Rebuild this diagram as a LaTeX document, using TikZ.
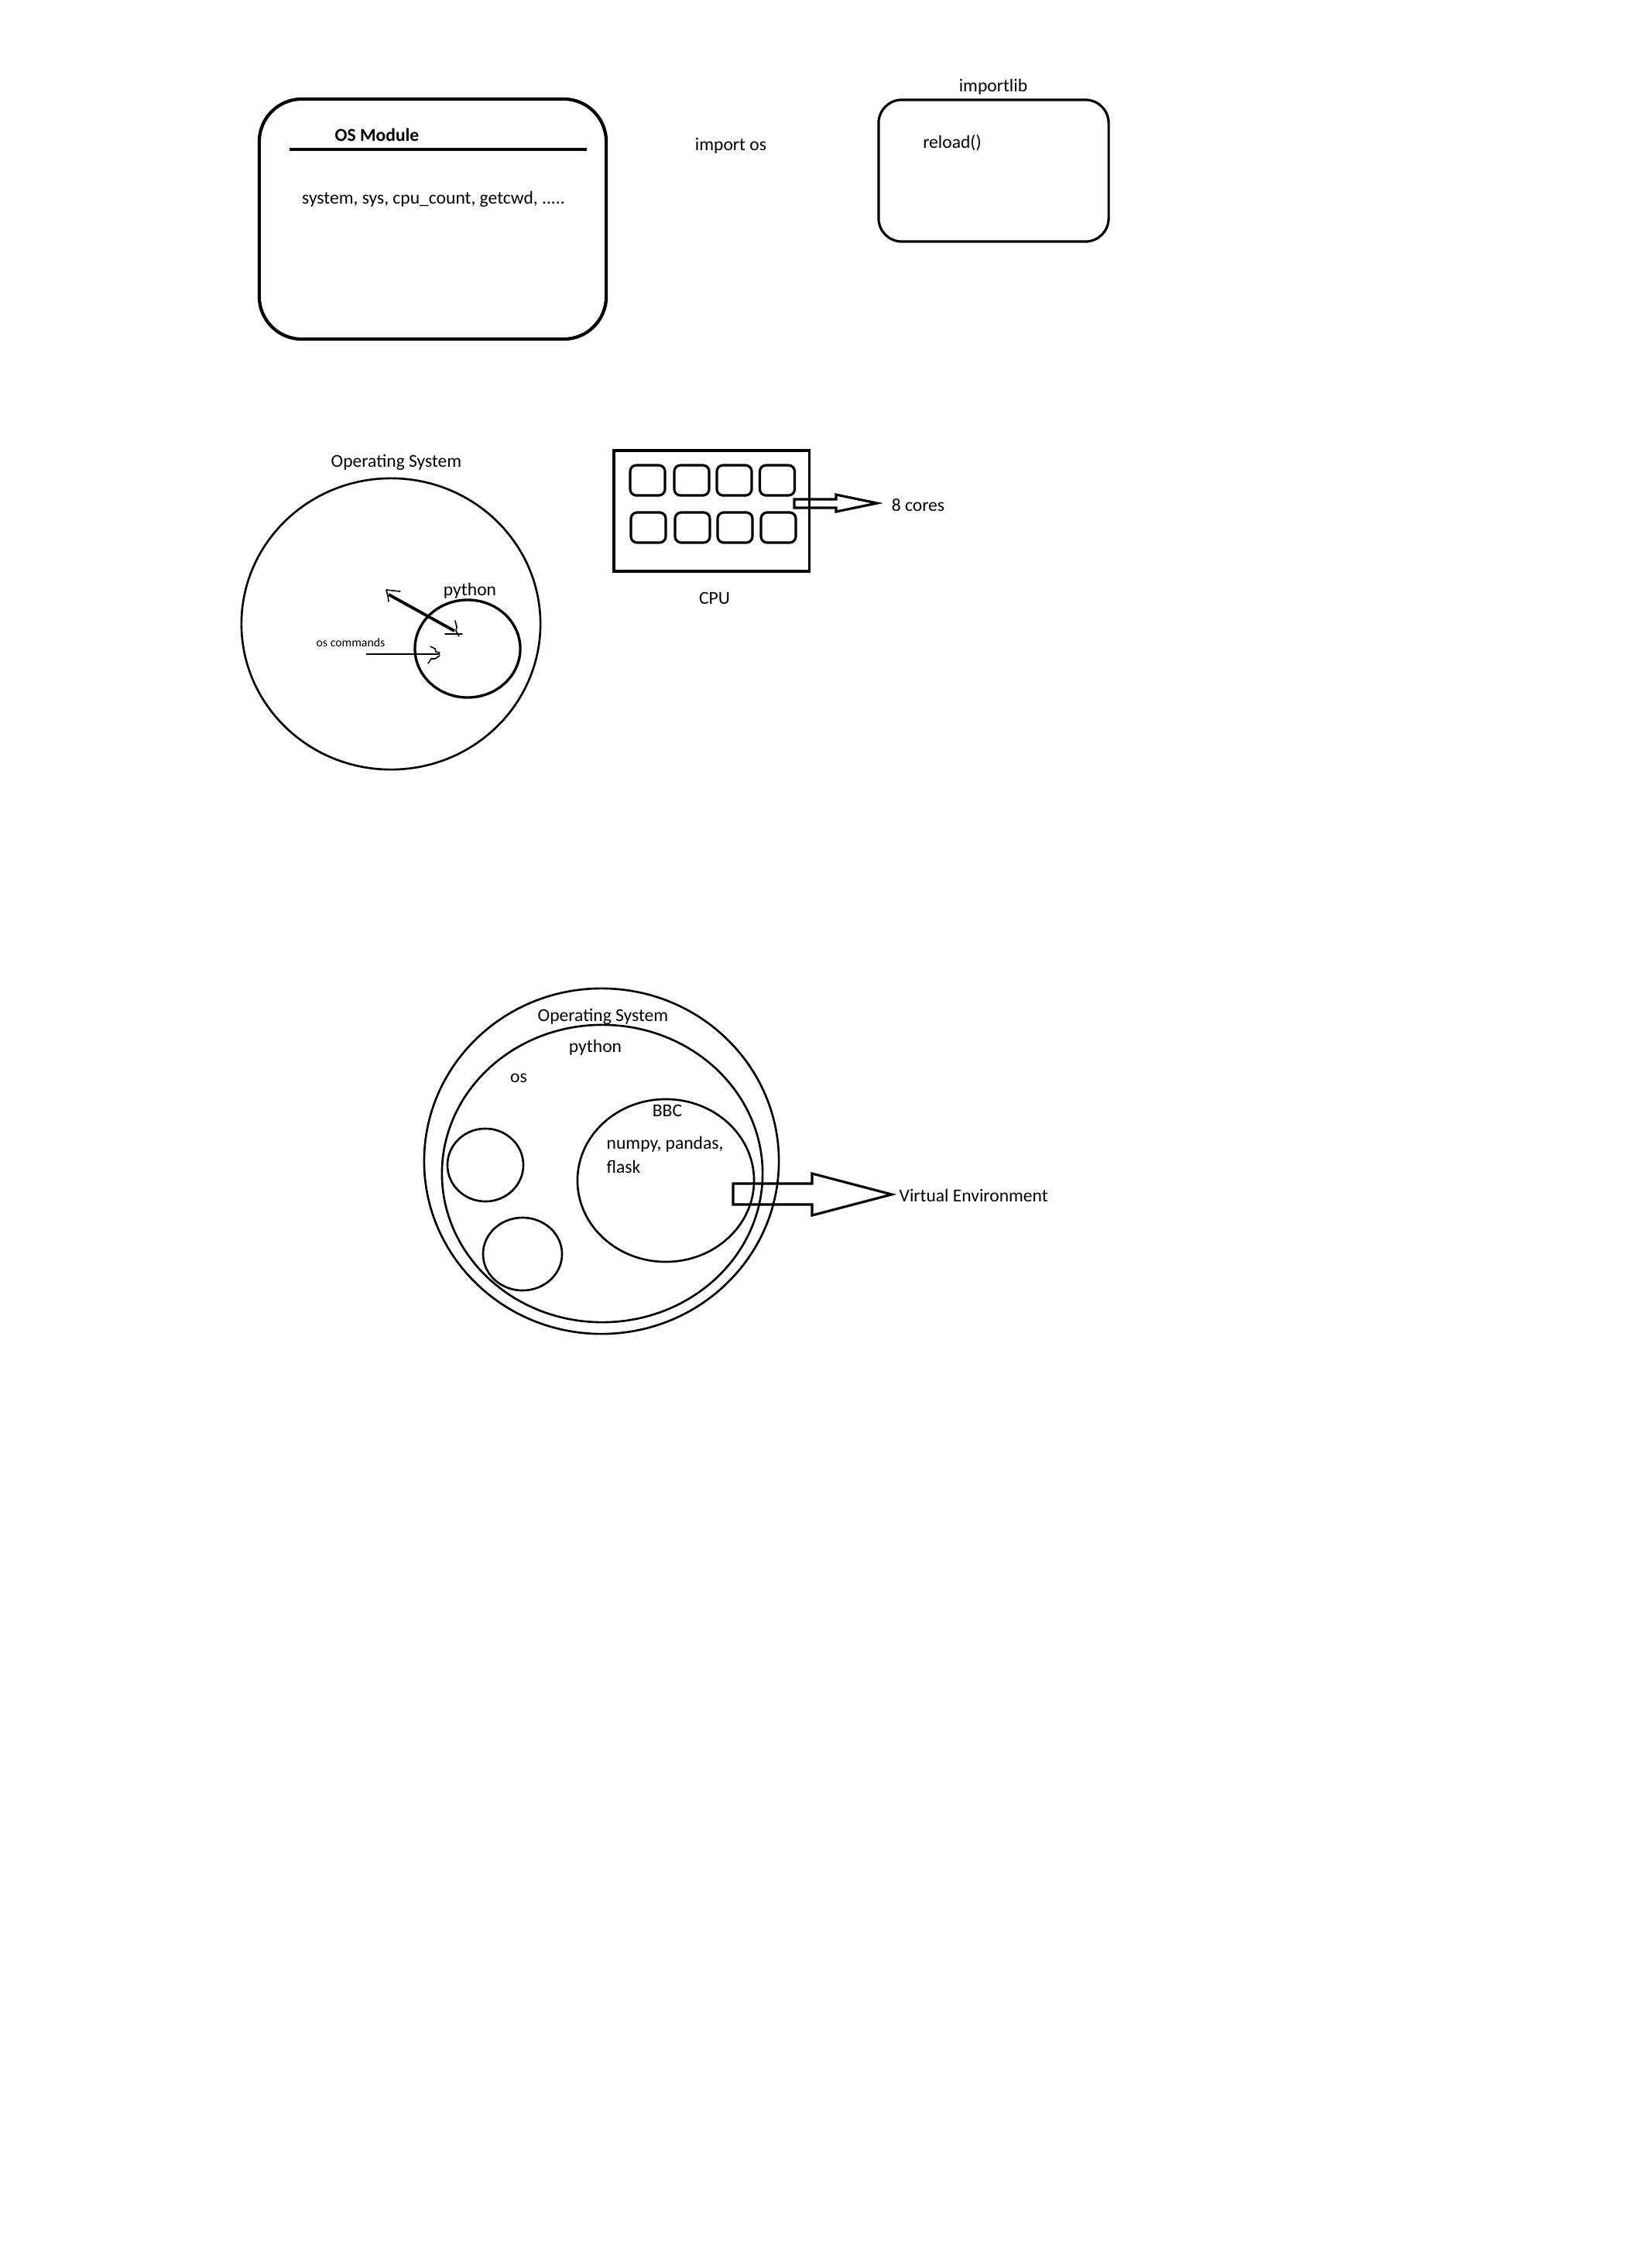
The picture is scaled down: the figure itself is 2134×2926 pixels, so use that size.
\documentclass[tikz,border=0pt]{standalone}
\usepackage{fontspec}
\setmainfont{Carlito}
\begin{document}
\begin{tikzpicture}[x=0.01cm,y=-0.01cm,
  txt/.style={font=\fontsize{6.7}{8}\selectfont, inner sep=0pt},
  boldtxt/.style={font=\fontsize{6.7}{8}\selectfont\bfseries, inner sep=0pt},
  smalltxt/.style={font=\fontsize{4.5}{5.5}\selectfont, inner sep=0pt},
  thinline/.style={line width=0.75pt},
  midline/.style={line width=0.9pt},
  core/.style={draw, line width=0.9pt, rounded corners=0.08cm, minimum width=0.45cm, minimum height=0.39cm, inner sep=0pt},
  handmark/.style={line width=0.45pt, line join=round, line cap=round}]
\useasboundingbox (0,0) rectangle (2134,2926);
\fill[white] (0,0) rectangle (2134,2926);

% ---------- OS Module box ----------
\node[draw, line width=1.2pt, rounded corners=0.55cm, minimum width=4.48cm, minimum height=3.1cm, inner sep=0pt] (osbox) at (559,283) {};
\coordinate (hl) at (374,193);
\coordinate (hr) at (758,193);
\draw[midline] (hl) -- (hr);
\node[boldtxt] (ostitle) at (487,174) {OS Module};
\node[txt] (osfuncs) at (560,257) {system, sys, cpu\_count, getcwd, .....};

\node[txt] (importos) at (944,188) {import os};

% ---------- importlib box ----------
\node[draw, midline, rounded corners=0.3cm, minimum width=2.97cm, minimum height=1.83cm, inner sep=0pt] (ilbox) at (1283.5,220.5) {};
\node[txt] (importlib) at (1283,112) {importlib};
\node[txt] (reload) at (1230,185) {reload()};

% ---------- Operating system / python ----------
\coordinate (os1) at (505,806);
\draw[thinline] (os1) ellipse [x radius=1.93cm, y radius=1.88cm];
\node[txt] (os1label) at (512,597) {Operating System};
\coordinate (py1) at (604,838);
\draw[line width=0.95pt] (py1) ellipse [x radius=0.68cm, y radius=0.63cm];
\node[txt] (py1label) at (607,763) {python};

\coordinate (ta) at (587,815);
\coordinate (tb) at (502,768);
\draw[line width=1.1pt] (ta) -- (tb);
\draw[handmark] (517,764) -- (508,763) -- (499,762) -- (501,770) -- (502,777);
\draw[handmark] (575,819) -- (597,819);
\draw[handmark] (588,802) -- (590,810) -- (589,815) -- (593,822);

\node[smalltxt] (oscmd) at (453,830) {os commands};
\coordinate (ca) at (473,845);
\coordinate (cb) at (568,845);
\draw[line width=0.5pt] (ca) -- (cb);
\draw[handmark] (556,835) -- (562,838) -- (563,842) -- (568,843);
\draw[handmark] (568,847) -- (562,851) -- (557,851) -- (553,857);

% ---------- CPU ----------
\node[draw, midline, minimum width=2.52cm, minimum height=1.56cm, inner sep=0pt] (cpu) at (919,660) {};
\node[core] (c1) at (836.5,620.5) {};
\node[core] (c2) at (893.5,620.5) {};
\node[core] (c3) at (948.5,620.5) {};
\node[core] (c4) at (1004,620.5) {};
\node[core] (c5) at (837.5,681.5) {};
\node[core] (c6) at (894.5,681.5) {};
\node[core] (c7) at (949.5,681.5) {};
\node[core] (c8) at (1005.5,681.5) {};
\coordinate (cpuarrowtip) at (1133,650);
\draw[midline, line join=miter] (1026,645) -- (1080,645) -- (1080,639) -- (cpuarrowtip) -- (1080,661) -- (1080,656) -- (1026,656) -- cycle;
\node[txt] (cores) at (1186,653) {8 cores};
\node[txt] (cpulabel) at (923,773) {CPU};

% ---------- Virtual environment figure ----------
\coordinate (osout) at (777,1500);
\coordinate (pyin) at (778,1516);
\coordinate (bbc) at (860,1525);
\coordinate (sm1) at (627,1505);
\coordinate (sm2) at (675,1620);
\draw[thinline] (osout) ellipse [x radius=2.29cm, y radius=2.23cm];
\draw[thinline] (pyin) ellipse [x radius=2.07cm, y radius=1.92cm];
\draw[thinline] (bbc) ellipse [x radius=1.14cm, y radius=1.05cm];
\draw[thinline] (sm1) ellipse [x radius=0.49cm, y radius=0.47cm];
\draw[thinline] (sm2) ellipse [x radius=0.51cm, y radius=0.47cm];
\node[txt] (os2label) at (779,1313) {Operating System};
\node[txt] (py2label) at (769,1353) {python};
\node[txt] (oslabel) at (670,1393) {os};
\node[txt] (bbclabel) at (862,1435) {BBC};
\node[txt, anchor=west] (libs1) at (783,1478) {numpy, pandas,};
\node[txt, anchor=west] (libs2) at (783,1507) {flask};
\coordinate (vetip) at (1152,1543);
\draw[midline, line join=miter] (947,1529) -- (1049,1529) -- (1049,1516) -- (vetip) -- (1049,1570) -- (1049,1556) -- (947,1556) -- cycle;
\node[txt, anchor=west] (velabel) at (1161,1544) {Virtual Environment};
\end{tikzpicture}
\end{document}
